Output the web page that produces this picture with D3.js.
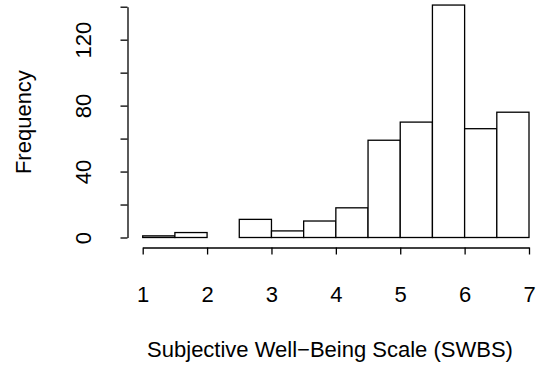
<!DOCTYPE html>
<html>
<head>
<meta charset="utf-8">
<script src="https://cdn.jsdelivr.net/npm/d3@7"></script>
<style>
  html, body { margin: 0; padding: 0; background: #fff; }
  svg { display: block; font-family: "Liberation Sans", Arial, Helvetica, sans-serif; }
</style>
</head>
<body>
<div id="chart"></div>
<script>
// histogram bins (SWBS, width 0.5) and counts
const binStarts = [1, 1.5, 2, 2.5, 3, 3.5, 4, 4.5, 5, 5.5, 6, 6.5];
const binEnds   = [1.5, 2, 2.5, 3, 3.5, 4, 4.5, 5, 5.5, 6, 6.5, 7];
const counts    = [1, 3, 0, 11, 4, 10, 18, 59, 70, 141, 66, 76];
const xTicks = [1, 2, 3, 4, 5, 6, 7];
const yTicks = [0, 20, 40, 60, 80, 100, 120, 140];
const yLabelled = [0, 40, 80, 120];

const width = 544, height = 369;
const fontSize = "22px";
const svg = d3.select("#chart").append("svg")
  .attr("width", width)
  .attr("height", height);

const x = d3.scaleLinear().domain([1, 7]).range([142.7, 529]);
const y = d3.scaleLinear().domain([0, 140]).range([237.5, 6.7]);

// bars
svg.append("g")
  .selectAll("rect")
  .data(counts)
  .join("rect")
  .attr("x", (d, i) => x(binStarts[i]))
  .attr("width", (d, i) => x(binEnds[i]) - x(binStarts[i]))
  .attr("y", d => y(d))
  .attr("height", d => y(0) - y(d))
  .attr("fill", "#fff")
  .attr("stroke", "#000")
  .attr("stroke-width", 1.3);

// x axis
const xAxis = svg.append("g")
  .attr("transform", "translate(0,247.5)")
  .call(d3.axisBottom(x).tickValues(xTicks).tickSize(7).tickSizeOuter(0).tickPadding(0).tickFormat(d3.format("d")));

xAxis.selectAll(".tick text")
  .attr("y", 46.5)
  .attr("dy", "0.35em");

// y axis
const yAxis = svg.append("g")
  .attr("transform", "translate(127.5,0)")
  .call(d3.axisLeft(y).tickValues(yTicks).tickSize(7).tickSizeOuter(0)
    .tickFormat(d => yLabelled.includes(d) ? d : ""));

yAxis.selectAll(".tick text")
  .attr("x", null)
  .attr("dy", "0.35em")
  .attr("text-anchor", "middle")
  .attr("transform", "translate(-44,0) rotate(-90)");

[xAxis, yAxis].forEach(a => {
  a.selectAll("path, line").attr("stroke", "#000").attr("stroke-width", 1.3);
  a.selectAll("text").attr("fill", "#000").style("font-size", fontSize)
    .style("font-family", "'Liberation Sans', Arial, sans-serif");
});

// axis titles
svg.append("text")
  .attr("x", 330)
  .attr("y", 349)
  .attr("dy", "0.35em")
  .attr("text-anchor", "middle")
  .style("font-size", fontSize)
  .text("Subjective Well\u2212Being Scale (SWBS)");

svg.append("text")
  .attr("transform", `translate(23.5,${(y(0) + y(140)) / 2}) rotate(-90)`)
  .attr("dy", "0.35em")
  .attr("text-anchor", "middle")
  .style("font-size", fontSize)
  .text("Frequency");
</script>
</body>
</html>
